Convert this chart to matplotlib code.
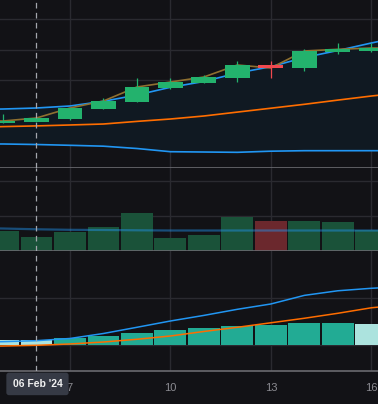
import numpy as np
import matplotlib
matplotlib.use("Agg")
import matplotlib.pyplot as plt
import matplotlib.transforms as mtransforms
from matplotlib.ticker import MultipleLocator, FixedLocator

# daily candles, 5 .. 16 Feb 2024
days = np.arange(5, 17)
opens = [41600, 41643, 41731, 42059, 42289, 42748, 42912, 43076, 43502, 43404, 43938, 43961]
highs = [41895, 41780, 42108, 42420, 43076, 43076, 43174, 43633, 43633, 44026, 44233, 44223]
lows = [41584, 41633, 41699, 42043, 42289, 42715, 42912, 42954, 43085, 43305, 43863, 43928]
closes = [41666, 41764, 42092, 42322, 42781, 42944, 43108, 43502, 43404, 43961, 44017, 44059]
volume = [580, 409, 551, 694, 1094, 380, 466, 980, 866, 866, 837, 609]
hist = [10.0, 10.0, 14.3, 18.5, 24.9, 31.3, 35.5, 39.8, 41.9, 46.2, 46.5, 44.0]

# overlay lines also have one point either side of the visible range
line_days = np.arange(4, 18)
close_line = [41680] + closes + [44060]
upper_band = [42043, 42059, 42092, 42158, 42312, 42518, 42771, 42961, 43240, 43446, 43748, 43977, 44223, 44453]
mid_ma = [41453, 41482, 41505, 41535, 41567, 41653, 41731, 41830, 41958, 42085, 42213, 42351, 42485, 42600]
lower_band = [40912, 40912, 40895, 40869, 40840, 40764, 40659, 40649, 40639, 40676, 40692, 40692, 40692, 40692]
vol_ma = [666, 651, 629, 614, 609, 600, 594, 594, 594, 594, 594, 594, 594, 594]
macd = [5.3, 6.4, 8.5, 13.2, 23.8, 37.0, 50.4, 62.3, 75.3, 86.6, 104.9, 114.7, 120.0, 123.8]
signal = [-3.8, -2.8, -1.3, 1.5, 5.7, 11.5, 18.5, 28.1, 37.0, 46.6, 56.2, 66.8, 78.5, 85.5]

xticks = [7, 10, 13, 16]
cross_day = 6
cross_label = "06 Feb '24"

BG = "#121216"
GRID = "#2a2a30"
SEP = "#6a6a70"
UP = "#23b26d"
DOWN = "#f0494f"
BLUE = "#2196f3"
ORANGE = "#ff6d00"

plt.rcParams['font.family'] = ['Liberation Sans', 'DejaVu Sans']

fig = plt.figure(figsize=(3.78, 4.04), dpi=100, facecolor=BG)
H = 404.0
ax1 = fig.add_axes([0, (H - 168.3) / H, 1, 168.3 / H])
ax2 = fig.add_axes([0, (H - 251.3) / H, 1, 83.0 / H], sharex=ax1)
ax3 = fig.add_axes([0, (H - 371.0) / H, 1, 119.7 / H], sharex=ax1)

for ax in (ax1, ax2, ax3):
    ax.set_facecolor(BG)
    for s in ("top", "left", "right"):
        ax.spines[s].set_visible(False)
    ax.spines["bottom"].set_color(SEP)
    ax.spines["bottom"].set_linewidth(1.2)
    ax.xaxis.set_major_locator(FixedLocator(xticks))
    ax.grid(True, color=GRID, lw=1.0)
    ax.set_axisbelow(True)
    ax.tick_params(left=False, bottom=False, labelleft=False, labelbottom=False)
    ax.axvline(cross_day, color="#a3a6ad", lw=0.9, dashes=(4.5, 3.5), zorder=10)

ax1.set_xlim(4.911, 16.2)

# price panel
ax1.set_ylim(40115, 45633)
ax1.yaxis.set_major_locator(MultipleLocator(1000))
ax1.fill_between(line_days, lower_band, upper_band, color="#101922", lw=0, zorder=1)
ax1.plot(line_days, lower_band, color=BLUE, lw=1.2, zorder=2)
ax1.plot(line_days, upper_band, color=BLUE, lw=1.2, zorder=2)
ax1.plot(line_days, mid_ma, color=ORANGE, lw=1.2, zorder=2)
ax1.plot(line_days, close_line, color="#8f7030", lw=1.2, zorder=2)
o = np.array(opens)
c = np.array(closes)
up = c >= o
cols = np.where(up, UP, DOWN)
ax1.vlines(days, lows, highs, colors=cols, lw=0.9, zorder=3)
ax1.bar(days, np.maximum(np.abs(c - o), 20), bottom=np.minimum(o, c), width=0.74,
        color=cols, lw=0, zorder=4)

# volume panel
ax2.set_ylim(0, 2371)
ax2.yaxis.set_major_locator(MultipleLocator(1000))
vcols = np.where(up, "#1a5239", "#6b282d")
ax2.bar(days, volume, width=0.95, color=vcols, lw=0, zorder=2)
ax2.plot(line_days, vol_ma, color=BLUE, lw=1.6, alpha=0.45, zorder=3)

# macd panel
ax3.set_ylim(-56, 198.7)
ax3.yaxis.set_major_locator(MultipleLocator(100))
hv = np.array(hist)
rising = np.diff(hv, prepend=np.inf) > 0
hcols = np.where(rising, "#22ab94", "#ace3de")
ax3.bar(days, hist, width=0.95, color=hcols, lw=0, zorder=2)
ax3.plot(line_days, signal, color=ORANGE, lw=1.1, zorder=3)
ax3.plot(line_days, macd, color=BLUE, lw=1.1, zorder=3)

ax3.tick_params(labelbottom=True, labelsize=8, labelcolor="#8b8b91", pad=5)

trans = mtransforms.blended_transform_factory(ax3.transData, ax3.transAxes)
ax3.text(cross_day + 0.03, -0.108, cross_label, transform=trans, ha="center", va="center",
         fontsize=7.5, fontweight="bold", color="#f0f0f0", zorder=20, clip_on=False,
         bbox=dict(boxstyle="round,pad=0.6,rounding_size=0.25", fc="#363a45", ec="none"))

fig.savefig("out.png", dpi=100, facecolor=BG)
